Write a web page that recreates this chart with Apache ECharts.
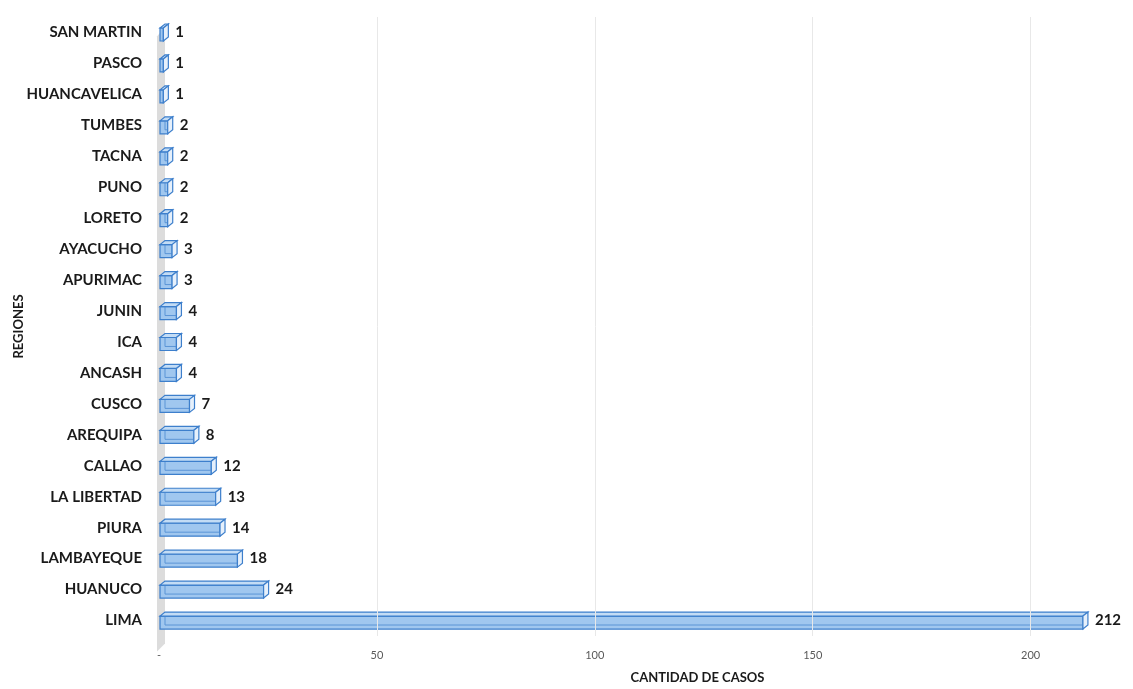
<!DOCTYPE html>
<html>
<head>
<meta charset="utf-8">
<script src="https://cdn.jsdelivr.net/npm/echarts@6/dist/echarts.min.js"></script>
<style>
  html, body { margin: 0; padding: 0; background: #ffffff; }
  #chart { width: 1133px; height: 689px; }
</style>
</head>
<body>
<div id="chart"></div>
<script>
// Regions, top to bottom
const regions = [
  'SAN MARTIN', 'PASCO', 'HUANCAVELICA', 'TUMBES', 'TACNA', 'PUNO', 'LORETO',
  'AYACUCHO', 'APURIMAC', 'JUNIN', 'ICA', 'ANCASH', 'CUSCO', 'AREQUIPA',
  'CALLAO', 'LA LIBERTAD', 'PIURA', 'LAMBAYEQUE', 'HUANUCO', 'LIMA'
];
// Number of cases per region
const casos = [1, 1, 1, 2, 2, 2, 2, 3, 3, 4, 4, 4, 7, 8, 12, 13, 14, 18, 24, 212];
// Value-axis ticks
const xTicks = [0, 50, 100, 150, 200];

const FONT = 'Lato, "Liberation Sans", sans-serif';
const DEPTH_X = 5, DEPTH_Y = -4, FACE_H = 13;

const chart = echarts.init(document.getElementById('chart'), null, { renderer: 'canvas' });

// Box-style bar with a top face, a right face and a value label
function renderBar(params, api) {
  const idx = api.value(0);
  const v = api.value(1);
  const p0 = api.coord([0, idx]);
  const p1 = api.coord([v, idx]);
  const x0 = p0[0] + 1, x1 = p1[0];
  const yt = p0[1] - FACE_H / 2 + 2, yb = yt + FACE_H;
  const stroke = '#3d7fcc';
  return {
    type: 'group',
    children: [
      { type: 'rect', shape: { x: x0, y: yt, width: x1 - x0, height: FACE_H },
        style: { fill: '#a0c7ef', stroke: stroke, lineWidth: 1.2 } },
      { type: 'line', shape: { x1: x0 + DEPTH_X, y1: yb + DEPTH_Y, x2: x1, y2: yb + DEPTH_Y },
        style: { stroke: '#5b95d6', lineWidth: 1 } },
      { type: 'line', shape: { x1: x0 + DEPTH_X, y1: yt + DEPTH_Y, x2: x0 + DEPTH_X, y2: yb + DEPTH_Y },
        style: { stroke: '#5b95d6', lineWidth: 1 } },
      { type: 'polygon', shape: { points: [[x0, yt], [x1, yt], [x1 + DEPTH_X, yt + DEPTH_Y], [x0 + DEPTH_X, yt + DEPTH_Y]] },
        style: { fill: '#c3dcf5', stroke: stroke, lineWidth: 1.2 } },
      { type: 'polygon', shape: { points: [[x1, yt], [x1 + DEPTH_X, yt + DEPTH_Y], [x1 + DEPTH_X, yb + DEPTH_Y], [x1, yb]] },
        style: { fill: '#e6f0fb', stroke: stroke, lineWidth: 1.2 } },
      { type: 'text', style: { x: x1 + DEPTH_X + 7, y: p0[1], text: String(v),
        fill: '#1a1a1a', font: 'bold 15px ' + FONT, textVerticalAlign: 'middle' } }
    ]
  };
}

// Grey side wall behind the bars
function renderWall(params, api) {
  const top = api.coord([0, -0.5]);
  const bot = api.coord([0, regions.length - 0.5]);
  const x = top[0] - 2;
  return {
    type: 'polygon',
    shape: { points: [[x, top[1] + 4], [x + 8, top[1] - 6], [x + 8, bot[1] - 8], [x, bot[1]]] },
    style: { fill: '#dcdcdc' },
    silent: true
  };
}

chart.setOption({
  animation: false,
  backgroundColor: '#ffffff',
  grid: { left: 159, right: 37, top: 17, bottom: 53, containLabel: false, outerBoundsMode: 'none' },
  xAxis: {
    type: 'value',
    min: 0, max: 215, interval: 50,
    axisLine: { show: false }, axisTick: { show: false },
    splitLine: { show: false },
    axisLabel: {
      margin: 14, color: '#595959', fontSize: 11, fontFamily: FONT,
      formatter: v => (v === 0 ? '-' : (xTicks.indexOf(v) >= 0 ? String(v) : ''))
    },
    name: 'CANTIDAD DE CASOS', nameLocation: 'middle', nameGap: 35, nameMoveOverlap: false,
    nameTextStyle: { fontWeight: 'bold', fontSize: 13, color: '#1a1a1a', fontFamily: FONT,
      padding: [0, 0, 0, 140] }
  },
  yAxis: {
    type: 'category', data: regions, inverse: true,
    axisLine: { show: false }, axisTick: { show: false },
    axisLabel: { margin: 17, fontWeight: 'bold', fontSize: 15, color: '#1a1a1a', fontFamily: FONT },
    name: 'REGIONES', nameLocation: 'middle', nameGap: 134, nameRotate: 90, nameMoveOverlap: false,
    nameTextStyle: { fontWeight: 'bold', fontSize: 13, color: '#1a1a1a', fontFamily: FONT }
  },
  series: [
    {
      type: 'custom', name: 'wall', renderItem: renderWall, data: [[0]], z: 1,
      encode: { x: 0 },
      markLine: {
        silent: true, symbol: 'none', label: { show: false },
        lineStyle: { color: '#e8e8e8', type: 'solid', width: 1 },
        data: xTicks.filter(t => t > 0).map(t => ({ xAxis: t }))
      }
    },
    {
      type: 'custom', name: 'casos', renderItem: renderBar, z: 3,
      encode: { x: 1, y: 0 },
      data: casos.map((c, i) => [i, c])
    }
  ]
});
</script>
</body>
</html>
